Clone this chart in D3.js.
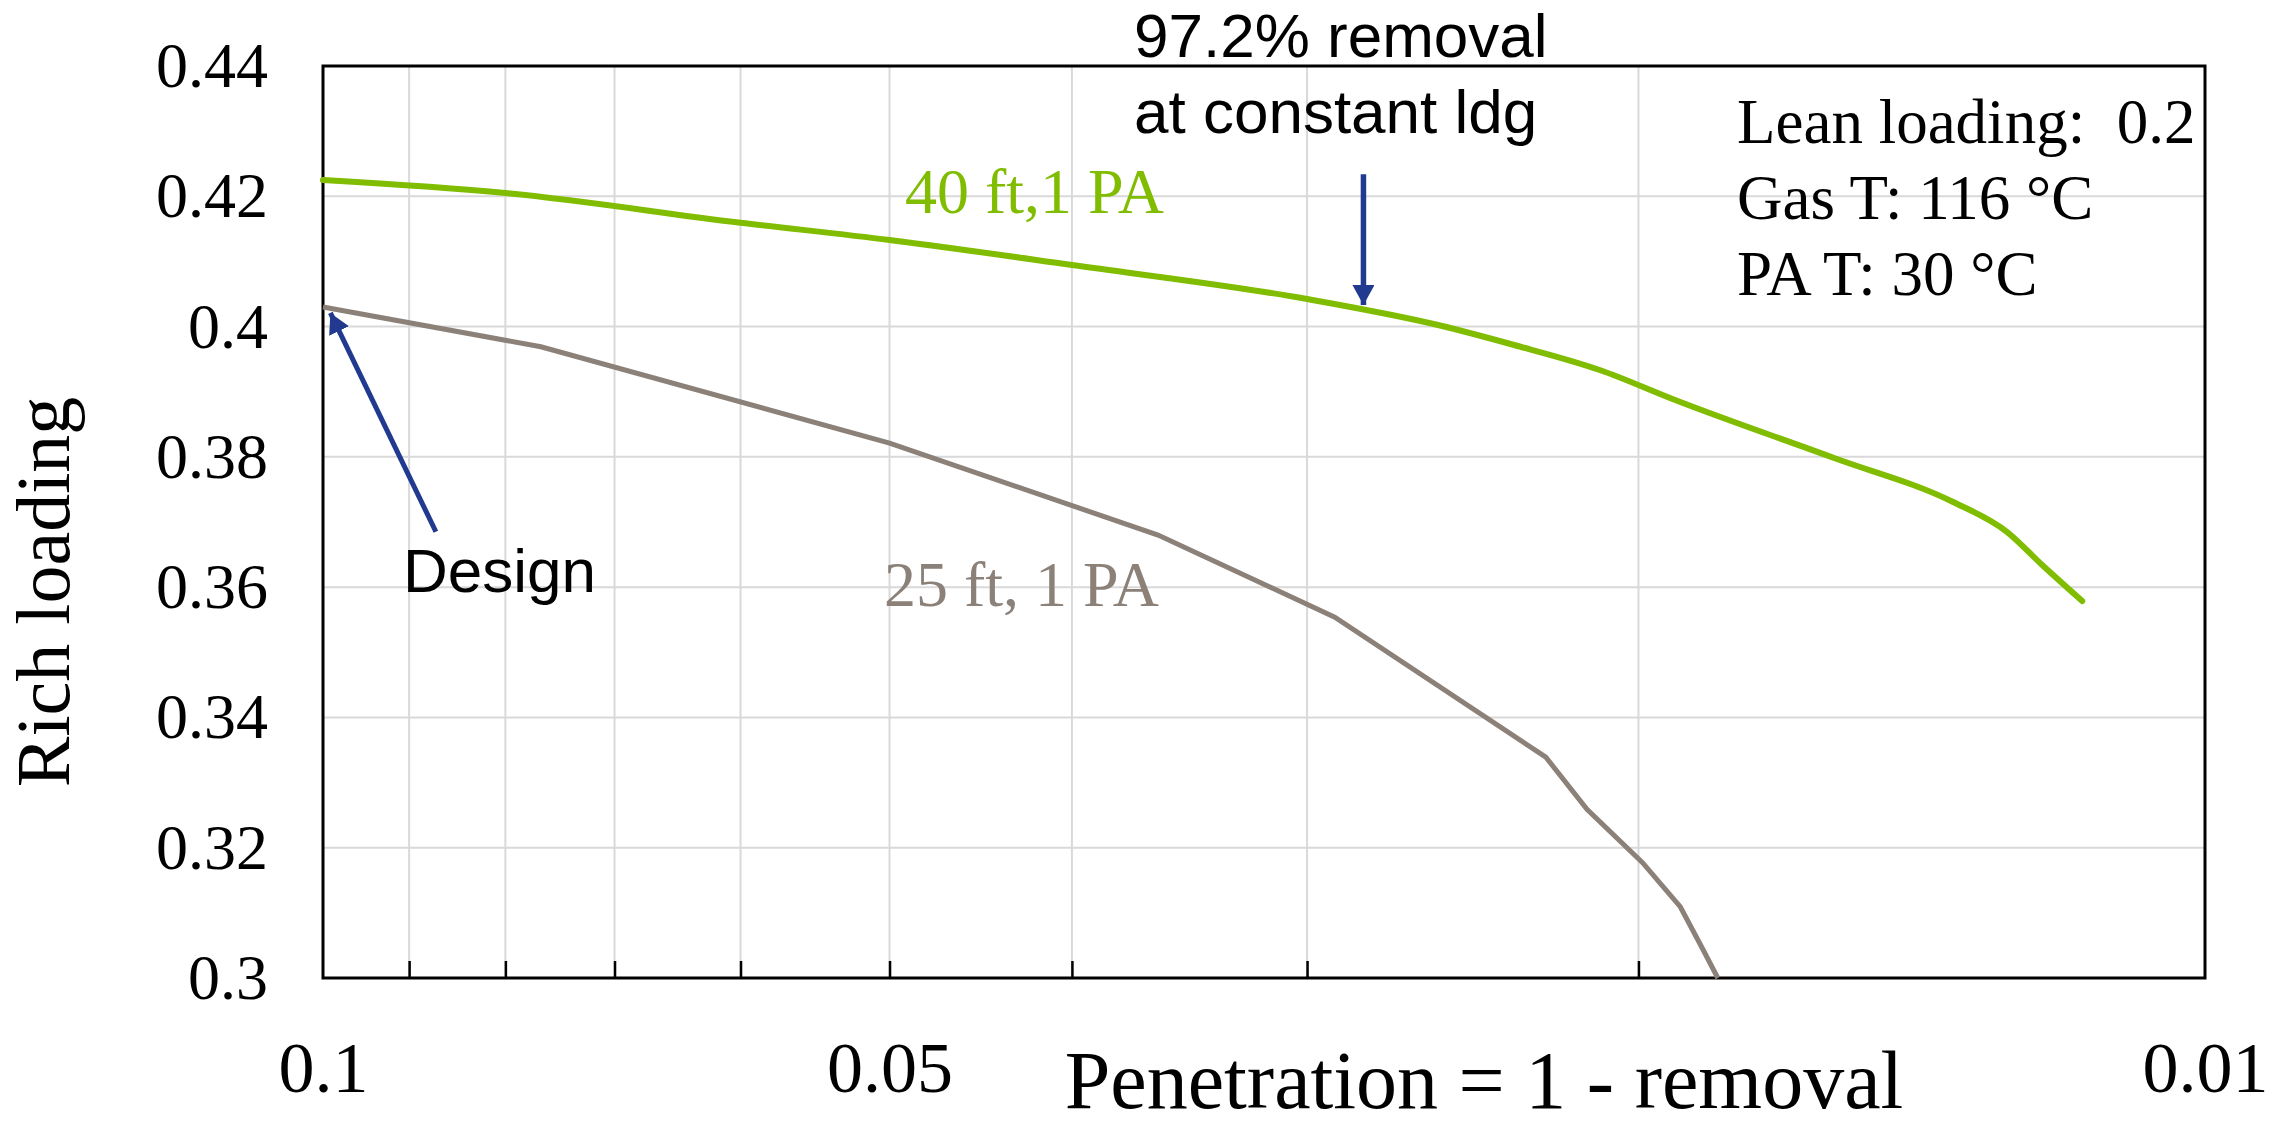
<!DOCTYPE html>
<html>
<head>
<meta charset="utf-8">
<script src="https://cdn.jsdelivr.net/npm/d3@7"></script>
<style>
  body { margin: 0; background: #fff; }
  svg { display: block; }
  .serif { font-family: "Liberation Serif", "Times New Roman", serif; }
  .sans { font-family: "Liberation Sans", Arial, sans-serif; }
</style>
</head>
<body>
<div id="chart"></div>
<script>
// penetration (1 - removal) and rich loading
const pen40 = [0.1, 0.08, 0.06, 0.05, 0.04, 0.03, 0.02556, 0.023286, 0.02097, 0.019124, 0.015743, 0.013609, 0.012738, 0.012204, 0.011621];
const rich40 = [0.4225, 0.4205, 0.41594, 0.41329, 0.40945, 0.40423, 0.40024, 0.39717, 0.39333, 0.38873, 0.37982, 0.37307, 0.36846, 0.3634, 0.35787];

const pen25 = [0.1, 0.0766, 0.05, 0.0360, 0.0290, 0.0224, 0.0213, 0.0199, 0.0190, 0.0185, 0.01815];
const rich25 = [0.4030, 0.3969, 0.3821, 0.3680, 0.3554, 0.3339, 0.3259, 0.3177, 0.3109, 0.3046, 0.3000];

const xLabelTicks = [0.1, 0.05, 0.01];
const xMinorTicks = [0.09, 0.08, 0.07, 0.06, 0.05, 0.04, 0.03, 0.02];
const yTicks = [0.3, 0.32, 0.34, 0.36, 0.38, 0.4, 0.42, 0.44];

const designFrom = [0.0871, 0.3685];
const designTo = [0.0991, 0.4021];
const removalPen = 0.028;      // 97.2% removal
const removalFrom = 0.4234;
const removalTo = 0.4033;

const infoLines = ["Lean loading:  0.2", "Gas T: 116 \u00B0C", "PA T: 30 \u00B0C"];

const green = "#80bc00";
const gray = "#8b8179";
const blue = "#213a8f";

const margin = {top: 66, right: 88, bottom: 148, left: 323};
const size = {width: 2293, height: 1126};
const width = size.width - margin.left - margin.right;
const height = size.height - margin.top - margin.bottom;

const root = d3.select("#chart").append("svg")
    .attr("width", size.width)
    .attr("height", size.height);

const defs = root.append("defs");
defs.append("marker")
    .attr("id", "arrowHead")
    .attr("markerUnits", "userSpaceOnUse")
    .attr("viewBox", "0 0 20 22")
    .attr("refX", 20).attr("refY", 11)
    .attr("markerWidth", 20).attr("markerHeight", 22)
    .attr("orient", "auto")
    .append("path")
    .attr("d", "M0,0 L20,11 L0,22 Z")
    .attr("fill", blue);

const svg = root.append("g")
    .attr("transform", "translate(" + margin.left + "," + margin.top + ")");

const xScale = d3.scaleLog().domain([0.1, 0.01]).range([0, width]);
const yScale = d3.scaleLinear().domain([0.3, 0.44]).range([height, 0]);

// grid
svg.append("g").selectAll("line")
    .data(xMinorTicks)
    .join("line")
    .attr("x1", d => xScale(d)).attr("x2", d => xScale(d))
    .attr("y1", 0).attr("y2", height)
    .attr("stroke", "#d9d9d9").attr("stroke-width", 2);

svg.append("g").selectAll("line")
    .data(yTicks.slice(1, -1))
    .join("line")
    .attr("x1", 0).attr("x2", width)
    .attr("y1", d => yScale(d)).attr("y2", d => yScale(d))
    .attr("stroke", "#d9d9d9").attr("stroke-width", 2);

// inner ticks on the bottom axis
const minorAxis = svg.append("g")
    .attr("transform", "translate(0," + height + ")")
    .call(d3.axisBottom(xScale).tickValues(xMinorTicks).tickSize(-17).tickFormat(""));
minorAxis.select(".domain").remove();
minorAxis.selectAll(".tick line").attr("stroke", "#000").attr("stroke-width", 2.5);

// x labels
const xAxisG = svg.append("g")
    .attr("transform", "translate(0," + height + ")")
    .call(d3.axisBottom(xScale).tickValues(xLabelTicks).tickSize(0).tickFormat(d3.format("")));
xAxisG.select(".domain").remove();
xAxisG.selectAll("text")
    .attr("class", "serif")
    .attr("y", 114).attr("dy", null)
    .attr("font-size", 72).attr("fill", "#000");

// y labels
const yAxisG = svg.append("g")
    .call(d3.axisLeft(yScale).tickValues(yTicks).tickSize(0).tickPadding(55).tickFormat(d3.format("")));
yAxisG.select(".domain").remove();
yAxisG.selectAll("text")
    .attr("class", "serif")
    .attr("font-size", 64).attr("fill", "#000");

// frame
svg.append("rect")
    .attr("width", width).attr("height", height)
    .attr("fill", "none").attr("stroke", "#000").attr("stroke-width", 3);

// series
const line40 = d3.line()
    .x(i => xScale(pen40[i]))
    .y(i => yScale(rich40[i]))
    .curve(d3.curveMonotoneX);
svg.append("path")
    .attr("d", line40(d3.range(pen40.length)))
    .attr("fill", "none").attr("stroke", green)
    .attr("stroke-width", 6).attr("stroke-linecap", "round");

const line25 = d3.line()
    .x(i => xScale(pen25[i]))
    .y(i => yScale(rich25[i]));
svg.append("path")
    .attr("d", line25(d3.range(pen25.length)))
    .attr("fill", "none").attr("stroke", gray)
    .attr("stroke-width", 5);

// annotation arrows
svg.append("line")
    .attr("x1", xScale(designFrom[0])).attr("y1", yScale(designFrom[1]))
    .attr("x2", xScale(designTo[0])).attr("y2", yScale(designTo[1]))
    .attr("stroke", blue).attr("stroke-width", 5)
    .attr("marker-end", "url(#arrowHead)");

svg.append("line")
    .attr("x1", xScale(removalPen)).attr("y1", yScale(removalFrom))
    .attr("x2", xScale(removalPen)).attr("y2", yScale(removalTo))
    .attr("stroke", blue).attr("stroke-width", 5.5)
    .attr("marker-end", "url(#arrowHead)");

// texts (page coordinates)
root.append("text")
    .attr("class", "serif")
    .attr("transform", "translate(69,592) rotate(-90)")
    .attr("text-anchor", "middle")
    .attr("font-size", 76)
    .text("Rich loading");

root.append("text")
    .attr("class", "serif")
    .attr("x", 1484).attr("y", 1108)
    .attr("text-anchor", "middle")
    .attr("font-size", 82)
    .text("Penetration = 1 - removal");

root.append("text")
    .attr("class", "sans")
    .attr("font-size", 62)
    .selectAll("tspan")
    .data(["97.2% removal", "at constant ldg"])
    .join("tspan")
    .attr("x", 1134)
    .attr("y", (d, i) => 57 + i * 76)
    .text(d => d);

root.append("text")
    .attr("class", "sans")
    .attr("x", 403).attr("y", 592)
    .attr("font-size", 62)
    .text("Design");

root.append("text")
    .attr("class", "serif")
    .attr("x", 905).attr("y", 213)
    .attr("font-size", 64).attr("fill", green)
    .text("40 ft,1 PA");

root.append("text")
    .attr("class", "serif")
    .attr("x", 884).attr("y", 606)
    .attr("font-size", 64).attr("fill", gray)
    .text("25 ft, 1 PA");

root.append("text")
    .attr("class", "serif")
    .attr("font-size", 63)
    .style("white-space", "pre")
    .selectAll("tspan")
    .data(infoLines)
    .join("tspan")
    .attr("x", 1737)
    .attr("y", (d, i) => 143 + i * 76)
    .text(d => d);
</script>
</body>
</html>
